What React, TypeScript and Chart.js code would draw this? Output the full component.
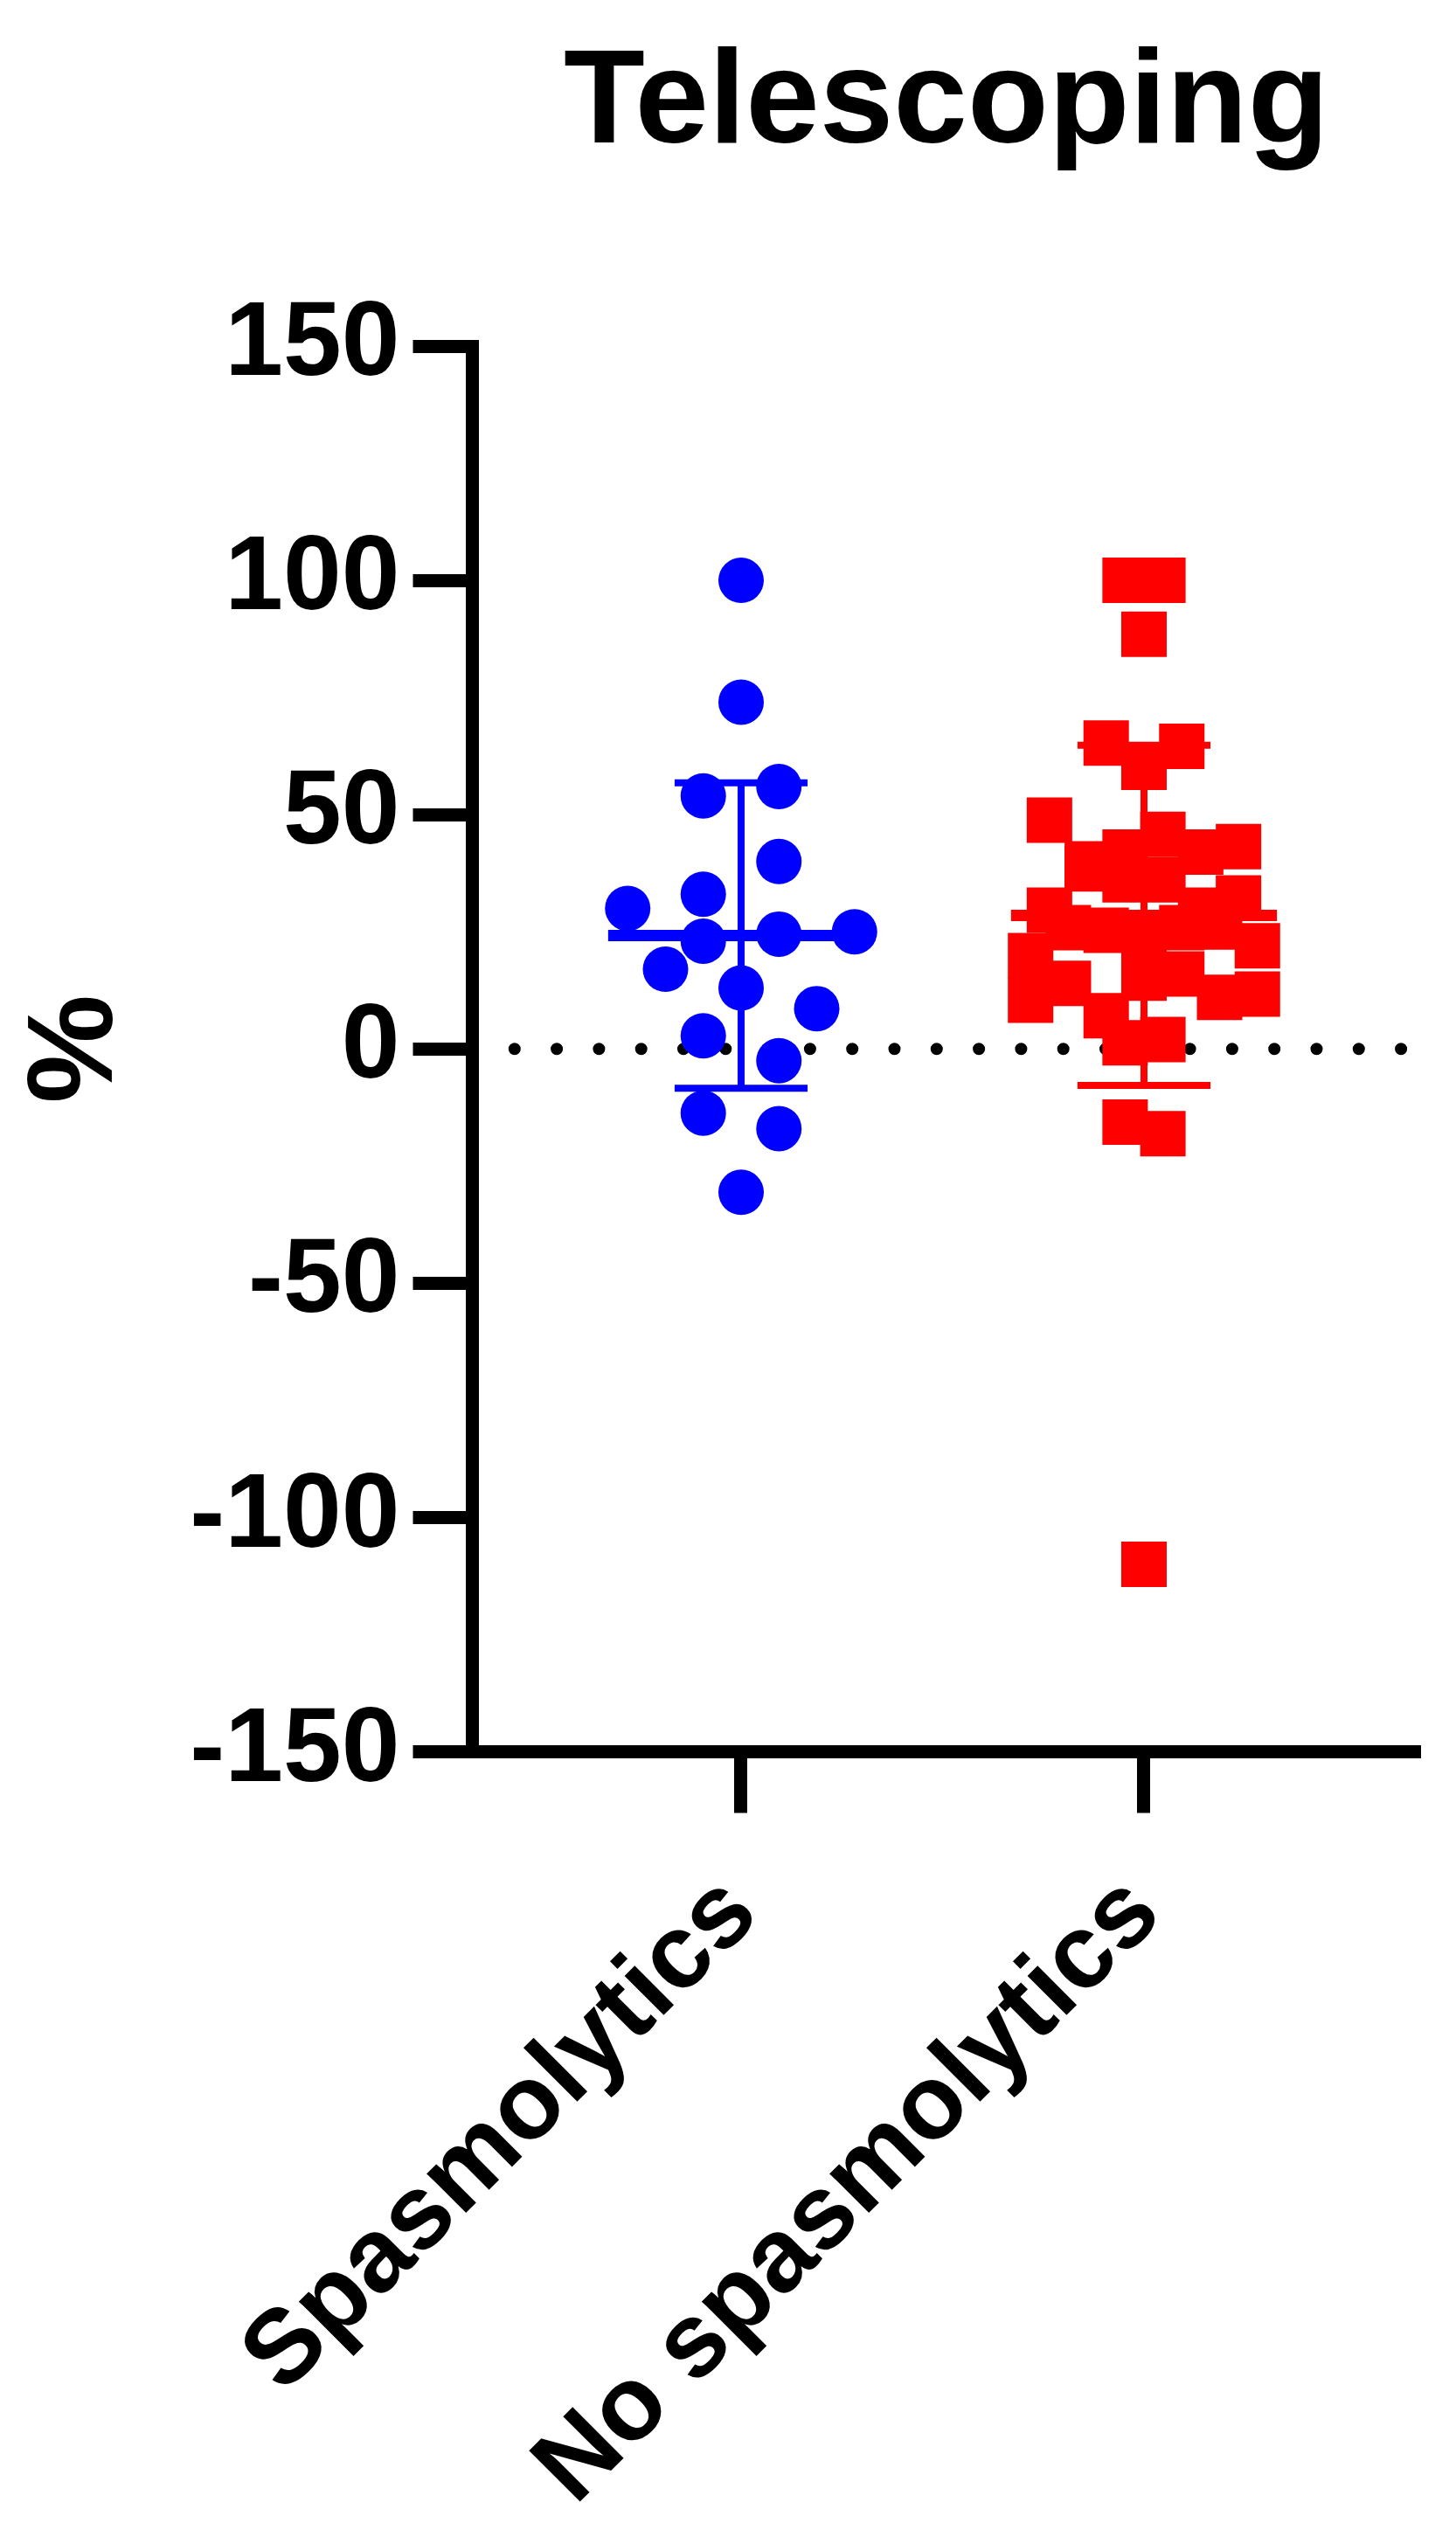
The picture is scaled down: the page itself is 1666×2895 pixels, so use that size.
import React, { useEffect, useRef } from 'react';
import { Chart, registerables } from 'chart.js';

Chart.register(...registerables);

// ---------------- DATA ----------------
const chartTitle = 'Telescoping';
const yAxisTitle = '%';
const categories = ['Spasmolytics', 'No spasmolytics'];

// individual observations; values of one horizontal row are listed left to right
const spasmolyticsValues = [
  100, 74, 54, 56, 33, 40, 30, 23, 24.5, 25, 17, 13, 8.6, 2.8, -2.5, -13.7, -17, -30.6,
];
const noSpasmolyticsValues = [
  100, 100, 88.5, 65.3, 60.1, 64.6,
  48.8, 39.5, 42, 45.8, 42, 43.2,
  29.6, 38.4, 36.1, 36.1, 29.6, 32.2,
  19.9, 25.9, 25.3, 22.5, 25.9, 26, 22,
  10.4, 14, 7.1, 15.1, 16.0, 11, 11.7,
  1.3, 2, -15.6, -18.1, -110,
];

// mean and SD as drawn (mean line and error bars)
const groupMeans = [24.2, 28.5];
const groupSDs = [32.6, 36.3];

const yTickValues = [-150, -100, -50, 0, 50, 100, 150];
const referenceLineValue = 0;

// ---------------- STYLE ----------------
const FONT_FAMILY = '"Liberation Sans", Arial, Helvetica, sans-serif';
const BLUE = '#0000FF';
const RED = '#FF0000';
const groupColors = [BLUE, RED];
const SYMBOL = 52; // symbol size in px
const AXIS_W = 15;
const SPREAD_FRACTION = 0.563; // width used by the widest row, as a fraction of category spacing
const MEAN_HALF_FRACTION = 0.33;
const CAP_HALF_FRACTION = 0.165;
const MEAN_WIDTH = 13;
const SD_WIDTH = 8;

const W = 1666;
const H = 2895;

const swarmPlugin = {
  id: 'swarm',
  afterDatasetsUpdate(chart: any) {
    const xs = chart.scales.x;
    const cat = xs.getPixelForValue(1) - xs.getPixelForValue(0);
    const spread = cat * SPREAD_FRACTION;
    chart.data.datasets.forEach((_ds: any, di: number) => {
      const els = chart.getDatasetMeta(di).data as any[];
      const order = els.map((_e, i) => i).sort((a, b) => els[a].y - els[b].y || a - b);
      const rows: number[][] = [];
      let cur: number[] = [];
      let y0: number | null = null;
      for (const i of order) {
        if (y0 === null || els[i].y - y0 >= SYMBOL) {
          if (cur.length) rows.push(cur);
          cur = [i];
          y0 = els[i].y;
        } else cur.push(i);
      }
      if (cur.length) rows.push(cur);
      const maxN = Math.max(...rows.map((r) => r.length));
      const step = maxN > 1 ? Math.min(spread / (maxN - 1), SYMBOL * 1.7) : 0;
      rows.forEach((r) => {
        r.sort((a, b) => a - b);
        r.forEach((idx, k) => {
          els[idx].x += (k - (r.length - 1) / 2) * step;
        });
      });
    });
  },
};

const zeroLinePlugin = {
  id: 'zeroLine',
  beforeDatasetsDraw(chart: any) {
    const { ctx, chartArea, scales } = chart;
    const y = scales.y.getPixelForValue(referenceLineValue);
    ctx.save();
    ctx.beginPath();
    ctx.setLineDash([0, 48.3]);
    ctx.lineCap = 'round';
    ctx.lineWidth = 14;
    ctx.strokeStyle = '#000';
    ctx.moveTo(chartArea.left, y);
    ctx.lineTo(chartArea.right, y);
    ctx.stroke();
    ctx.restore();
  },
};

const errorBarPlugin = {
  id: 'errorBars',
  afterDatasetsDraw(chart: any) {
    const { ctx, scales } = chart;
    const xs = scales.x;
    const ys = scales.y;
    const cat = xs.getPixelForValue(1) - xs.getPixelForValue(0);
    groupMeans.forEach((m, i) => {
      const sd = groupSDs[i];
      const cx = xs.getPixelForValue(i);
      const yM = ys.getPixelForValue(m);
      const yT = ys.getPixelForValue(m + sd);
      const yB = ys.getPixelForValue(m - sd);
      const capHalf = cat * CAP_HALF_FRACTION;
      const meanHalf = cat * MEAN_HALF_FRACTION;
      ctx.save();
      ctx.strokeStyle = groupColors[i];
      ctx.lineCap = 'butt';
      ctx.lineWidth = SD_WIDTH;
      ctx.beginPath();
      ctx.moveTo(cx, yT);
      ctx.lineTo(cx, yB);
      ctx.moveTo(cx - capHalf, yT);
      ctx.lineTo(cx + capHalf, yT);
      ctx.moveTo(cx - capHalf, yB);
      ctx.lineTo(cx + capHalf, yB);
      ctx.stroke();
      ctx.lineWidth = MEAN_WIDTH;
      ctx.beginPath();
      ctx.moveTo(cx - meanHalf, yM);
      ctx.lineTo(cx + meanHalf, yM);
      ctx.stroke();
      ctx.restore();
    });
  },
};

export default function App() {
  const ref = useRef<HTMLCanvasElement>(null);

  useEffect(() => {
    const canvas = ref.current;
    if (!canvas) return;
    const tickFont = { family: FONT_FAMILY, size: 120, weight: 'bold' as const };
    const chart = new Chart(canvas, {
      type: 'scatter',
      data: {
        datasets: [
          {
            label: categories[0],
            data: spasmolyticsValues.map((v) => ({ x: 0, y: v })),
            pointStyle: 'circle',
            pointRadius: SYMBOL / 2,
            pointBackgroundColor: BLUE,
            pointBorderWidth: 0,
            pointHoverRadius: SYMBOL / 2,
          },
          {
            label: categories[1],
            data: noSpasmolyticsValues.map((v) => ({ x: 1, y: v })),
            pointStyle: 'rect',
            pointRadius: SYMBOL / Math.SQRT2,
            pointBackgroundColor: RED,
            pointBorderWidth: 0,
            pointHoverRadius: SYMBOL / Math.SQRT2,
          },
        ],
      },
      options: {
        responsive: false,
        animation: false,
        devicePixelRatio: 1,
        events: [],
        layout: { padding: { left: 0, right: 41, top: 0, bottom: 0 }, autoPadding: false },
        plugins: {
          legend: { display: false },
          tooltip: { enabled: false },
          title: {
            display: true,
            text: chartTitle,
            color: '#000',
            fullSize: false,
            font: { family: FONT_FAMILY, size: 152, weight: 'bold' },
            padding: { top: 30, bottom: 183.6 },
          },
        },
        scales: {
          x: {
            type: 'linear',
            min: -0.667,
            max: 1.6855,
            afterBuildTicks: (s: any) => {
              s.ticks = categories.map((_c, i) => ({ value: i }));
            },
            afterFit: (s: any) => {
              s.height = 890.5;
            },
            ticks: {
              autoSkip: false,
              minRotation: 45,
              maxRotation: 45,
              padding: 45,
              color: '#000',
              font: tickFont,
              callback: (v: any) => categories[v] ?? '',
            },
            grid: {
              drawOnChartArea: false,
              drawTicks: true,
              tickLength: 70,
              tickWidth: AXIS_W,
              tickColor: '#000',
            },
            border: { display: true, width: AXIS_W, color: '#000' },
          },
          y: {
            type: 'linear',
            min: -150,
            max: 150,
            afterBuildTicks: (s: any) => {
              s.ticks = yTickValues.map((v) => ({ value: v }));
            },
            afterFit: (s: any) => {
              s.width = 540.5;
            },
            ticks: {
              color: '#000',
              padding: 15,
              font: tickFont,
              callback: (v: any) => String(v),
            },
            grid: {
              drawOnChartArea: false,
              drawTicks: true,
              tickLength: 68,
              tickWidth: AXIS_W,
              tickColor: '#000',
            },
            border: { display: true, width: AXIS_W, color: '#000' },
            title: {
              display: true,
              text: yAxisTitle,
              color: '#000',
              font: { family: FONT_FAMILY, size: 140, weight: 'bold' },
              padding: { top: 5, bottom: 0 },
            },
          },
        },
      },
      plugins: [zeroLinePlugin, swarmPlugin, errorBarPlugin],
    } as any);
    return () => chart.destroy();
  }, []);

  return (
    <div style={{ position: 'absolute', left: 0, top: 0, width: W, height: H, background: '#fff' }}>
      <canvas ref={ref} width={W} height={H} style={{ display: 'block', width: W, height: H }} />
    </div>
  );
}
